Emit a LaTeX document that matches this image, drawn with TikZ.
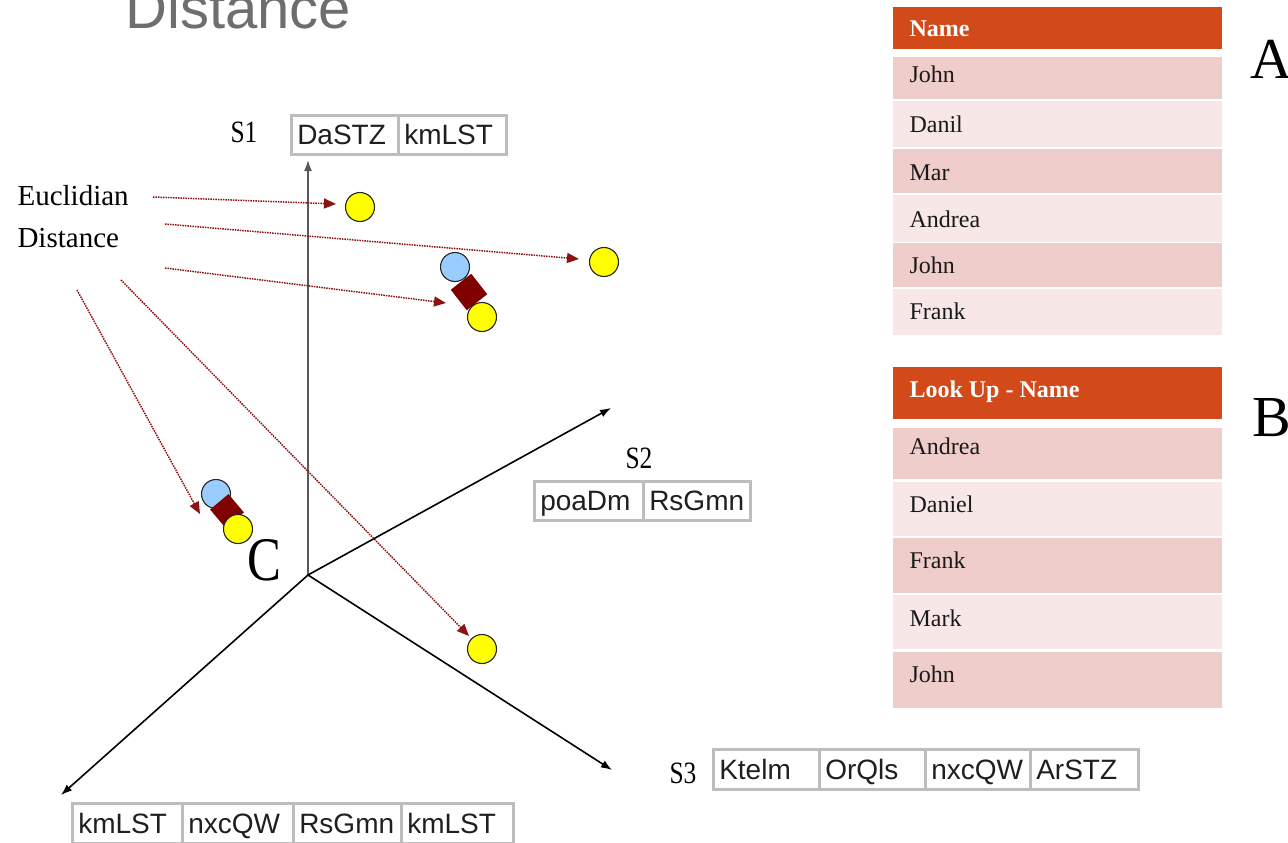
\documentclass[tikz,border=0pt]{standalone}
\usepackage{fontspec}
\setmainfont{Liberation Serif}
\setsansfont{Liberation Sans}
\newfontfamily\condserif[FakeStretch=0.82]{Liberation Serif}
\usetikzlibrary{arrows.meta}
\definecolor{hdr}{HTML}{D2491A}
\definecolor{rowdark}{HTML}{EFCDCA}
\definecolor{rowlight}{HTML}{F7E7E6}
\definecolor{dotred}{HTML}{8E1212}
\definecolor{cellline}{HTML}{BDBDBD}
\definecolor{titlegray}{HTML}{6E6E6E}
\definecolor{ptyellow}{HTML}{FFFF00}
\definecolor{ptblue}{HTML}{99CCFF}
\definecolor{ptred}{HTML}{800000}
\begin{document}
\begin{tikzpicture}[x=1pt,y=-1pt,
  axisline/.style={line width=1.6pt,-{Latex[length=11pt,width=8pt]}},
  distarrow/.style={dotred,line width=1.5pt,dash pattern=on 1.5pt off 1pt,-{Triangle[length=12pt,width=10pt]}},
  ypt/.style={circle,draw=black!85,line width=1.1pt,fill=ptyellow,minimum size=29pt,inner sep=0pt},
  bpt/.style={circle,draw=black!85,line width=1.1pt,fill=ptblue,minimum size=29pt,inner sep=0pt},
  rpt/.style={rectangle,fill=ptred,minimum size=26pt,inner sep=0pt},
  cell/.style={draw=cellline,line width=2.5pt,anchor=north west,inner xsep=6pt,inner ysep=0pt,
    text height=20pt,text depth=0pt,align=left,text=black!88,font=\sffamily\fontsize{28}{30}\selectfont},
  slabel/.style={anchor=base west,font=\condserif\fontsize{31}{33}\selectfont},
  bigletter/.style={anchor=base west,font=\fontsize{58}{60}\selectfont},
  hdrrow/.style={fill=hdr,anchor=north west,minimum width=329pt,inner sep=0pt},
  darkrow/.style={fill=rowdark,anchor=north west,minimum width=329pt,inner sep=0pt},
  lightrow/.style={fill=rowlight,anchor=north west,minimum width=329pt,inner sep=0pt},
  rowtext/.style={anchor=base west,font=\fontsize{24}{26}\selectfont,text=black!90},
  hdrtext/.style={anchor=base west,font=\bfseries\fontsize{24}{26}\selectfont,text=white}
]
\useasboundingbox (0,0) rectangle (1288,843);

% title
\node[anchor=base west,font=\sffamily\fontsize{58}{60}\selectfont,text=titlegray] (title) at (122,29) {Distance};

% axes
\coordinate (O) at (308,575);
\coordinate (s1tip) at (308,160);
\coordinate (s2tip) at (611,408);
\coordinate (s3tip) at (612,770);
\coordinate (s4tip) at (61,795);
\draw[axisline,black!65] (O) -- (s1tip);
\draw[axisline] (O) -- (s2tip);
\draw[axisline] (O) -- (s3tip);
\draw[axisline] (O) -- (s4tip);

% axis labels
\node[slabel] (S1) at (227,142) {S1};
\node[slabel] (S2) at (622,468) {S2};
\node[slabel] (S3) at (666,783) {S3};

% S1 table
\node[cell,minimum height=39pt,text width=95pt] (c11) at (290,114) {DaSTZ};
\node[cell,minimum height=39pt,text width=96pt] (c12) at (397,114) {kmLST};
% S2 table
\node[cell,minimum height=39pt,text width=97pt] (c21) at (533,480) {poaDm};
\node[cell,minimum height=39pt,text width=95pt] (c22) at (642,480) {RsGmn};
% S3 table
\node[cell,minimum height=40pt,text width=94pt] (c31) at (712,748) {Ktelm};
\node[cell,minimum height=40pt,text width=94pt] (c32) at (818,748) {OrQls};
\node[cell,minimum height=40pt,text width=93pt] (c33) at (924,748) {nxcQW};
\node[cell,minimum height=40pt,text width=96pt] (c34) at (1029,748) {ArSTZ};
% bottom table
\node[cell,minimum height=40pt,text width=98pt] (c41) at (71,802) {kmLST};
\node[cell,minimum height=40pt,text width=99pt] (c42) at (181,802) {nxcQW};
\node[cell,minimum height=40pt,text width=96pt] (c43) at (292,802) {RsGmn};
\node[cell,minimum height=40pt,text width=100pt] (c44) at (400,802) {kmLST};

% Euclidian distance label
\node[anchor=base west,font=\fontsize{29}{31}\selectfont] (eu1) at (14,205) {Euclidian};
\node[anchor=base west,font=\fontsize{29}{31}\selectfont] (eu2) at (14,247) {Distance};

% points
\node[ypt] (y1) at (360,207) {};
\node[ypt] (y2) at (604,262) {};
\node[bpt] (b3) at (455,267) {};
\node[rpt,rotate=38] (r3) at (469,292) {};
\node[ypt] (y3) at (482,317) {};
\node[bpt] (b4) at (216,494) {};
\node[rpt,rotate=40,minimum size=24pt] (r4) at (227,511) {};
\node[ypt] (y4) at (238,529) {};
\node[ypt] (y5) at (482,649) {};

% C label
\node[anchor=base west,font=\condserif\fontsize{62}{64}\selectfont] (C) at (244,580) {C};

% distance arrows
\coordinate (d1s) at (153,197); \coordinate (d1e) at (336,204);
\coordinate (d2s) at (165,224); \coordinate (d2e) at (579,259);
\coordinate (d3s) at (165,268); \coordinate (d3e) at (446,303);
\coordinate (d4s) at (77,290);  \coordinate (d4e) at (200,514);
\coordinate (d5s) at (121,280); \coordinate (d5e) at (469,636);
\draw[distarrow] (d1s) -- (d1e);
\draw[distarrow] (d2s) -- (d2e);
\draw[distarrow] (d3s) -- (d3e);
\draw[distarrow] (d4s) -- (d4e);
\draw[distarrow] (d5s) -- (d5e);

% table A
\node[hdrrow,minimum height=42pt] (ah) at (893,7) {};
\node[darkrow,minimum height=42pt] (a1) at (893,57) {};
\node[lightrow,minimum height=46pt] (a2) at (893,101) {};
\node[darkrow,minimum height=44pt] (a3) at (893,149) {};
\node[lightrow,minimum height=47pt] (a4) at (893,195) {};
\node[darkrow,minimum height=44pt] (a5) at (893,243) {};
\node[lightrow,minimum height=46pt] (a6) at (893,289) {};
\node[hdrtext] (aht) at (906,37) {Name};
\node[rowtext] (a1t) at (906,83) {John};
\node[rowtext] (a2t) at (906,132) {Danil};
\node[rowtext] (a3t) at (906,180) {Mar};
\node[rowtext] (a4t) at (906,227) {Andrea};
\node[rowtext] (a5t) at (906,273) {John};
\node[rowtext] (a6t) at (906,319) {Frank};
\node[bigletter] (A) at (1247,78) {A};

% table B
\node[hdrrow,minimum height=52pt] (bh) at (893,367) {};
\node[darkrow,minimum height=51pt] (bb1) at (893,428) {};
\node[lightrow,minimum height=54pt] (bb2) at (893,482) {};
\node[darkrow,minimum height=55pt] (bb3) at (893,538) {};
\node[lightrow,minimum height=54pt] (bb4) at (893,595) {};
\node[darkrow,minimum height=56pt] (bb5) at (893,652) {};
\node[hdrtext] (bht) at (906,397) {Look Up - Name};
\node[rowtext] (b1t) at (906,454) {Andrea};
\node[rowtext] (b2t) at (906,512) {Daniel};
\node[rowtext] (b3t) at (906,568) {Frank};
\node[rowtext] (b4t) at (906,626) {Mark};
\node[rowtext] (b5t) at (906,682) {John};
\node[bigletter] (B) at (1249,436) {B};
\end{tikzpicture}
\end{document}
